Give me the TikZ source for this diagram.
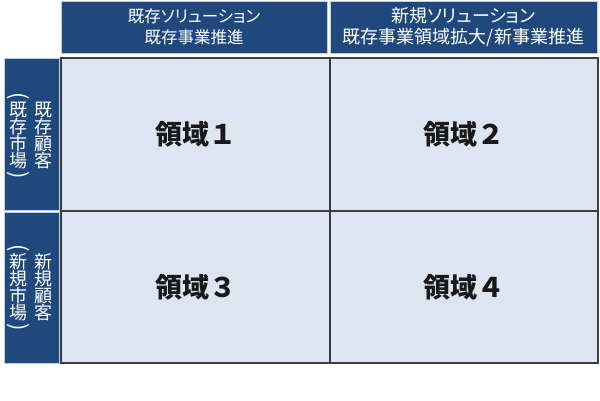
\documentclass[tikz,border=0pt]{standalone}
\usepackage{fontspec}
\setmainfont{Noto Sans CJK JP}
\newfontfamily\kanafont{Noto Sans CJK JP}[RawFeature={+palt}]
\definecolor{hdrblue}{RGB}{31,73,125}
\definecolor{cellblue}{RGB}{220,229,241}
\definecolor{gridgray}{RGB}{60,60,60}
\definecolor{edgeline}{RGB}{190,206,228}
\begin{document}
\begin{tikzpicture}[x=1pt,y=-1pt,
  hdr/.style={rectangle,fill=hdrblue,draw=edgeline,line width=0.6pt,inner sep=0pt,outer sep=0pt,text=white,align=center},
  cellbox/.style={rectangle,fill=cellblue,inner sep=0pt,outer sep=0pt,font=\fontsize{27pt}{30pt}\selectfont\bfseries,text=black!90},
  vcol/.style={text=white,align=center,inner sep=0pt,font=\fontsize{18pt}{17pt}\selectfont},
  vparen/.style={text=white,inner sep=0pt,rotate=-90,font=\fontsize{22pt}{22pt}\selectfont},
  gridline/.style={draw=gridgray,line width=1.5pt}]
\useasboundingbox (0,0) rectangle (600,400);
% headers
\node[hdr,minimum width=266pt,minimum height=52pt,font=\fontsize{16.5pt}{20.5pt}\selectfont] (h1) at (194,27) {{\kanafont 既存ソリューション}\\既存事業推進};
\node[hdr,minimum width=267pt,minimum height=52pt,font=\fontsize{18pt}{20.5pt}\selectfont] (h2) at (463.5,27) {{\kanafont 新規ソリューション}\\既存事業領域拡大/新事業推進};
% cells
\node[cellbox,minimum width=269pt,minimum height=153pt] (c11) at (195.5,134.5) {領域１};
\node[cellbox,minimum width=268pt,minimum height=153pt] (c12) at (464,134.5) {領域２};
\node[cellbox,minimum width=269pt,minimum height=152pt] (c21) at (195.5,287) {領域３};
\node[cellbox,minimum width=268pt,minimum height=152pt] (c22) at (464,287) {領域４};
\draw[gridline] (c11.north west) rectangle (c22.south east);
\draw[gridline] (c11.north east) -- (c21.south east);
\draw[gridline] (c11.south west) -- (c12.south east);
% row headers
\node[hdr,minimum width=55pt,minimum height=152.5pt] (r1) at (31.5,134.25) {};
\node[hdr,minimum width=55pt,minimum height=150.5pt] (r2) at (31.5,287.75) {};
\node[vcol] (r1a) at (43.5,135.5) {既\\存\\顧\\客};
\node[vcol] (r1b) at (18.5,135.5) {既\\存\\市\\場};
\node[vparen] (r1p) at (18.5,96) {(};
\node[vparen] (r1q) at (18.5,175) {)};
\node[vcol] (r2a) at (43.5,287.5) {新\\規\\顧\\客};
\node[vcol] (r2b) at (18.5,287.5) {新\\規\\市\\場};
\node[vparen] (r2p) at (18.5,248) {(};
\node[vparen] (r2q) at (18.5,327) {)};
\end{tikzpicture}
\end{document}
